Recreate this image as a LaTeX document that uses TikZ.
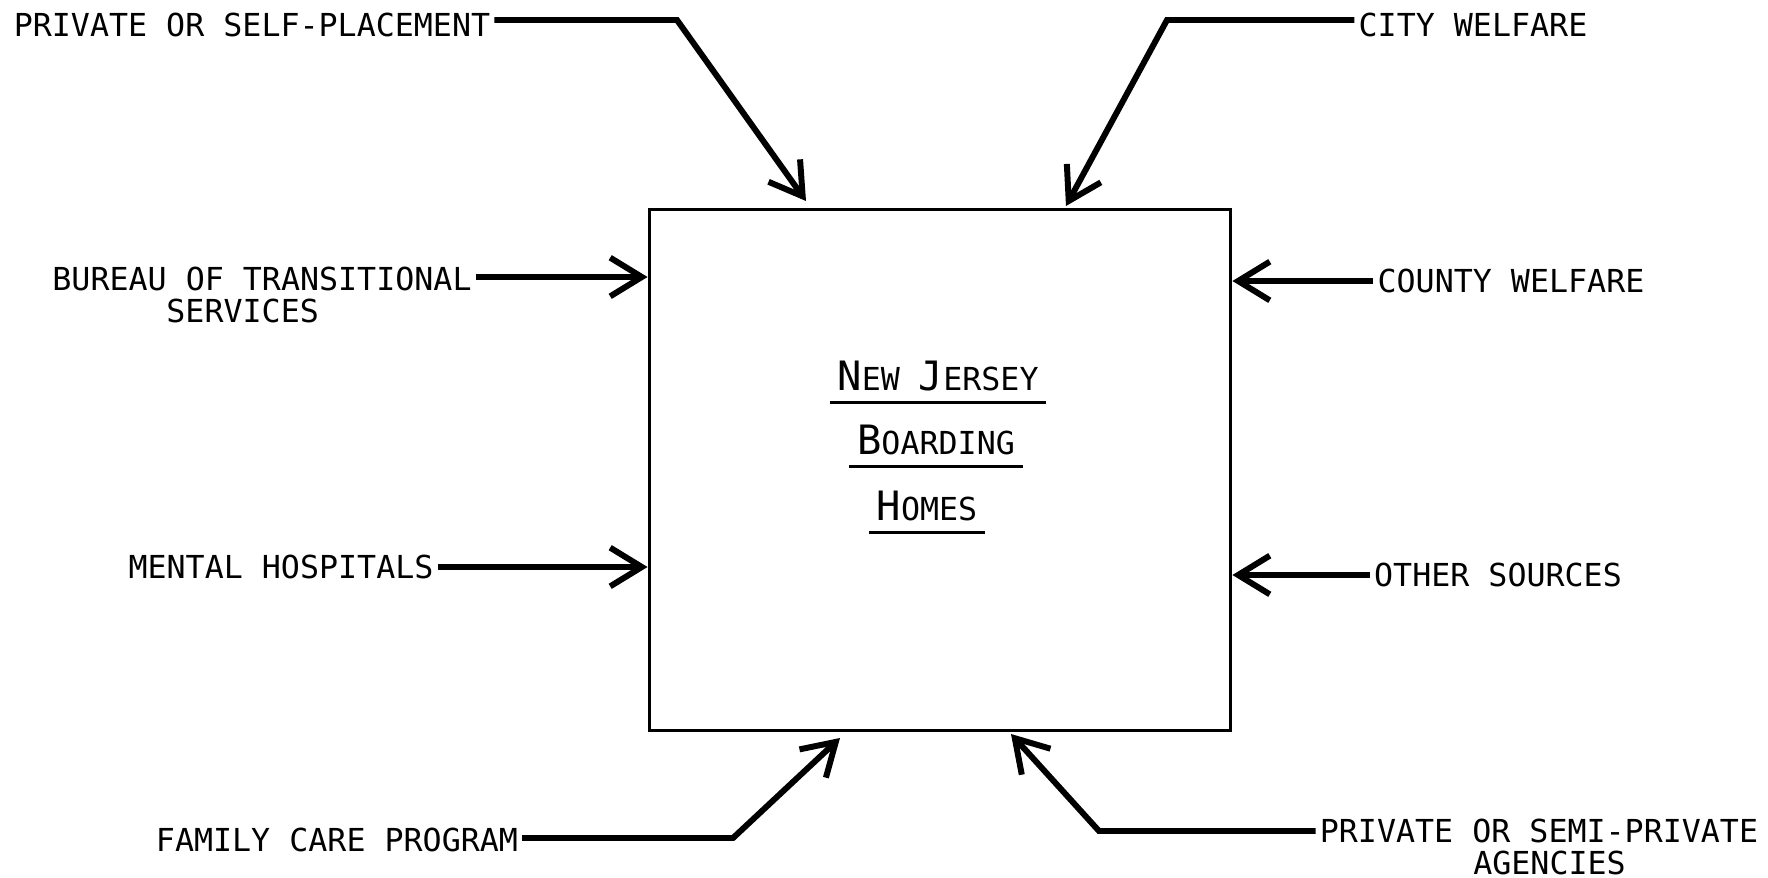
\documentclass[tikz,border=0pt]{standalone}
\usepackage{fontspec}
\newfontfamily\typerfont{DejaVu Sans Mono}
\usepackage{tikz}
\usetikzlibrary{arrows.meta}

\newcommand{\capfirst}[1]{{\fontsize{11.5}{11.5}\selectfont #1}}

\begin{document}
\begin{tikzpicture}[x=0.01cm, y=-0.01cm,
    every node/.style={font=\typerfont\fontsize{9}{9}\selectfont, inner sep=1pt},
    source/.style={align=center},
    feed/.style={line width=1.7pt, -{Straight Barb[length=9pt,width=11pt]}},
    uline/.style={line width=0.8pt}]

    \useasboundingbox (0,0) rectangle (1768,878);

    %===========================
    % Boarding homes
    %===========================
    \draw node (box) at (940,470) [draw, line width=1pt, minimum width=5.81cm, minimum height=5.21cm]{};

    \node (nj) at (938,376) {\capfirst{N}EW \capfirst{J}ERSEY};
    \draw[uline] ([xshift=-1pt,yshift=-2pt]nj.south west) -- ([xshift=1pt,yshift=-2pt]nj.south east);
    \node (bh) at (936,440) {\capfirst{B}OARDING};
    \draw[uline] ([xshift=-1pt,yshift=-2pt]bh.south west) -- ([xshift=1pt,yshift=-2pt]bh.south east);
    \node (hm) at (927,506) {\capfirst{H}OMES};
    \draw[uline] ([xshift=-1pt,yshift=-2pt]hm.south west) -- ([xshift=1pt,yshift=-2pt]hm.south east);


    %===========================
    % Sources
    %===========================

    % Top
    \node (psp) at (252,25) {PRIVATE OR SELF-PLACEMENT};
    \coordinate (psp-bend) at (677,20);
    \coordinate (psp-in) at (806,201);
    \draw[feed] (psp.east |- psp-bend) -- (psp-bend) -- (psp-in);

    \node (cw) at (1473,25) {CITY WELFARE};
    \coordinate (cw-bend) at (1167,20);
    \coordinate (cw-in) at (1066,206);
    \draw[feed] (cw.west |- cw-bend) -- (cw-bend) -- (cw-in);

    % Left Side
    \node (bts) at (262,295) [source] {BUREAU OF TRANSITIONAL\\SERVICES\hspace*{11pt}};
    \coordinate (bts-line) at (0,277);
    \draw[feed] (bts.east |- bts-line) -- (box.west |- bts-line);

    \node (mh) at (281,567) {MENTAL HOSPITALS};
    \draw[feed] (mh.east) -- (mh.east -| box.west);

    % Right Side
    \node (cyw) at (1511,281) {COUNTY WELFARE};
    \draw[feed] (cyw.west) -- (cyw.west -| box.east);

    \node (os) at (1498,575) {OTHER SOURCES};
    \draw[feed] (os.west) -- (os.west -| box.east);

    % Bottom
    \node (fcp) at (337,840) {FAMILY CARE PROGRAM};
    \coordinate (fcp-bend) at (733,838);
    \coordinate (fcp-in) at (840,738);
    \draw[feed] (fcp.east |- fcp-bend) -- (fcp-bend) -- (fcp-in);

    \node (psa) at (1539,847) [source] {PRIVATE OR SEMI-PRIVATE\\\hspace*{6pt}AGENCIES};
    \coordinate (psa-bend) at (1099,831);
    \coordinate (psa-in) at (1011,734);
    \draw[feed] (psa.west |- psa-bend) -- (psa-bend) -- (psa-in);
\end{tikzpicture}
\end{document}
